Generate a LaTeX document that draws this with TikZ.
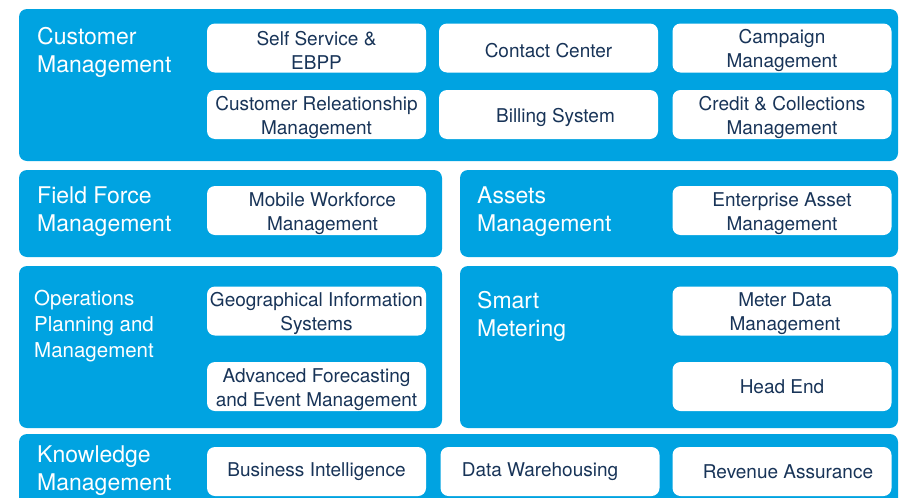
\documentclass[tikz,border=0pt]{standalone}
\usepackage{fontspec}
\setmainfont{TeX Gyre Heros}
\definecolor{panelblue}{RGB}{0,163,225}
\definecolor{itemtext}{RGB}{24,52,88}
\tikzset{
  panel/.style={fill=panelblue, rounded corners=8pt},
  item/.style={fill=white, rounded corners=8pt, minimum width=219pt, minimum height=49pt,
    inner sep=0pt, align=center, text=itemtext, font=\fontsize{19}{24}\selectfont},
  area/.style={anchor=north west, inner sep=0pt, align=left, text=white,
    font=\fontsize{23}{28}\selectfont}
}
\newcommand{\lift}{\rule{0pt}{19.5pt}}
\begin{document}
\begin{tikzpicture}[x=1pt, y=-1pt]
        \useasboundingbox (0,0) rectangle (900,498);
        \clip (0,0) rectangle (900,498);
        \fill[panel] (19,9)    rectangle (898,161);
        \fill[panel] (19,170)  rectangle (442,257);
        \fill[panel] (460,170) rectangle (898,257);
        \fill[panel] (19,266)  rectangle (442,428);
        \fill[panel] (460,266) rectangle (898,428);
        \fill[panel] (19,434)  rectangle (898,520);
        \node[area] (customer)  at (37,27)  {Customer\\Management};
        \node[area] (field)     at (37,187) {Field Force\\Management};
        \node[area] (assets)    at (477,187) {Assets\\Management};
        \node[area, font=\fontsize{20.5}{26}\selectfont] (operations) at (34,290) {Operations\\Planning and\\Management};
        \node[area] (smart)     at (477,291) {Smart\\Metering};
        \node[area] (knowledge) at (37,446) {Knowledge\\Management};
        \node[item] (selfservice) at (316.5,48)  {\lift Self Service \&\\EBPP};
        \node[item] (contact)     at (548.5,48)  {\lift Contact Center};
        \node[item] (campaign)    at (782,48)    {\lift Campaign\\Management};
        \node[item] (crm)         at (316.5,114.5) {\lift Customer Releationship\\Management};
        \node[item] (billing)     at (548.5,114.5) {\lift\hspace*{14pt}Billing System};
        \node[item] (credit)      at (782,114.5) {\lift Credit \& Collections\\Management};
        \node[item] (mobile)      at (316.5,210.5) {\lift\hspace*{12pt}Mobile Workforce\\\hspace*{12pt}Management};
        \node[item] (eam)         at (782,210.5) {\lift Enterprise Asset\\Management};
        \node[item] (gis)         at (316.5,311) {\lift Geographical Information\\Systems};
        \node[item] (forecast)    at (316.5,386.5) {\lift Advanced Forecasting\\and Event Management};
        \node[item] (mdm)         at (782,311) {\lift\hspace*{6pt}Meter Data\\\hspace*{6pt}Management};
        \node[item] (headend)     at (782,386.5) {Head End};
        \node[item] (bi)          at (316.5,471.5) {Business Intelligence};
        \node[item] (warehouse)   at (550,471.5) {Data Warehousing\hspace*{20pt}};
        \node[item] (revenue)     at (782,471.5) {\hspace*{12pt}Revenue Assurance};
      \end{tikzpicture}
\end{document}
